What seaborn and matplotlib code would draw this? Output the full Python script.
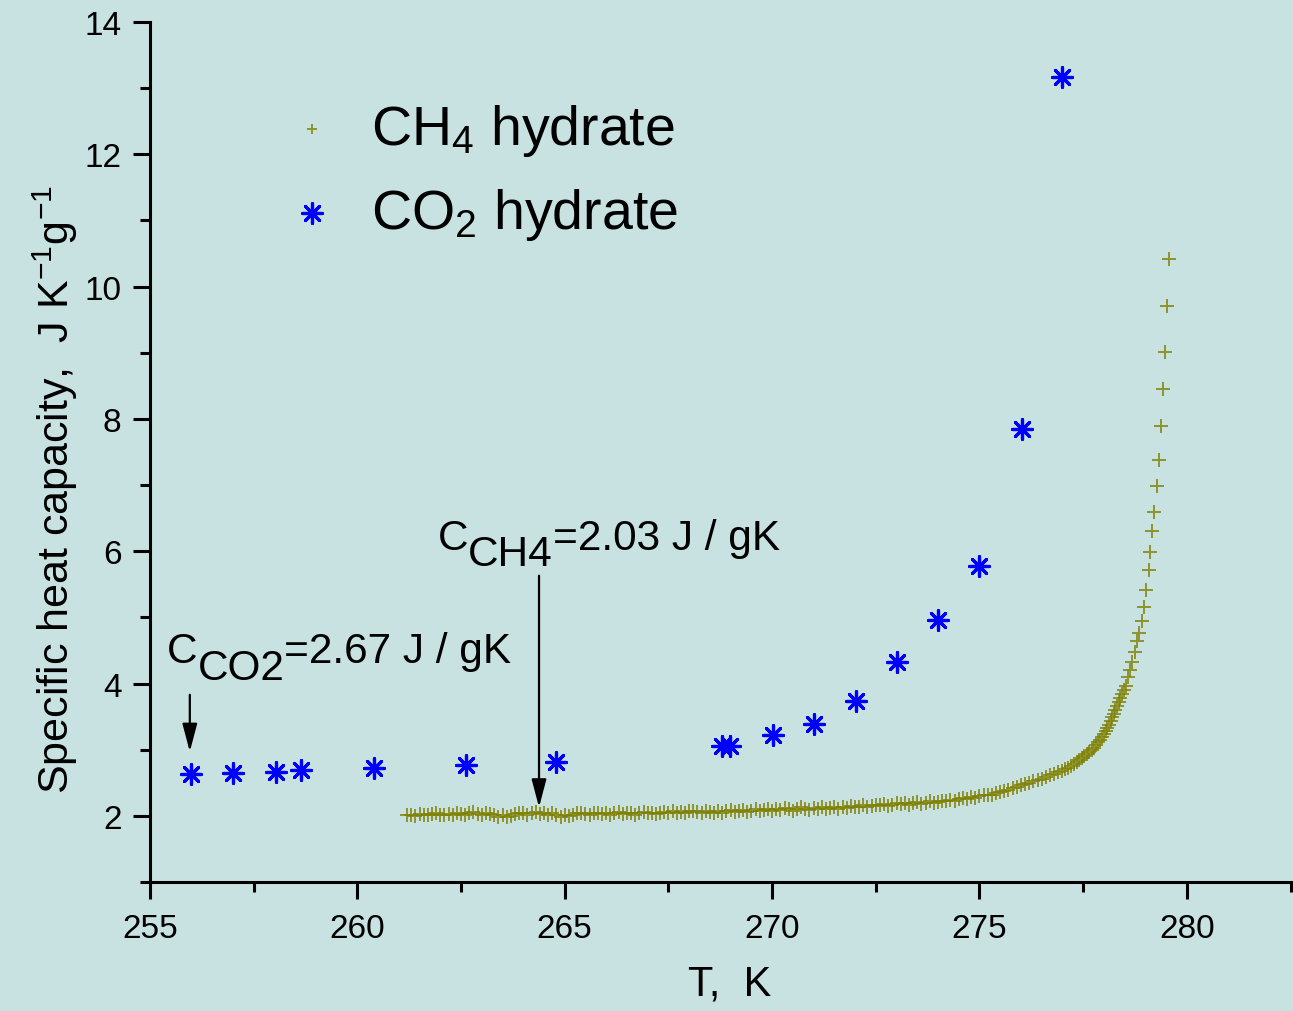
import numpy as np
import pandas as pd
import matplotlib
matplotlib.use("Agg")
import matplotlib.pyplot as plt
from matplotlib.ticker import MultipleLocator
import seaborn as sns

# ---------------- data ----------------
co2_T = [256.0, 257.0, 258.05, 258.65, 260.4, 262.62, 264.8, 268.8, 268.98,
         270.02, 271.0, 272.02, 273.0, 274.0, 275.0, 276.02, 277.0]
co2_C = [2.64, 2.65, 2.66, 2.69, 2.73, 2.77, 2.82, 3.05, 3.05,
         3.22, 3.39, 3.73, 4.32, 4.96, 5.78, 7.85, 13.17]

ch4_T = [
    261.2, 261.3, 261.4, 261.5, 261.6, 261.7, 261.8, 261.9, 262.0, 262.1,
    262.2, 262.3, 262.4, 262.5, 262.6, 262.7, 262.8, 262.9, 263.0, 263.1,
    263.2, 263.3, 263.4, 263.5, 263.6, 263.7, 263.8, 263.9, 264.0, 264.1,
    264.2, 264.3, 264.4, 264.5, 264.6, 264.7, 264.8, 264.9, 265.0, 265.1,
    265.2, 265.3, 265.4, 265.5, 265.6, 265.7, 265.8, 265.9, 266.0, 266.1,
    266.2, 266.3, 266.4, 266.5, 266.6, 266.7, 266.8, 266.9, 267.0, 267.1,
    267.2, 267.3, 267.4, 267.5, 267.6, 267.7, 267.8, 267.9, 268.0, 268.1,
    268.2, 268.3, 268.4, 268.5, 268.6, 268.7, 268.8, 268.9, 269.0, 269.1,
    269.2, 269.3, 269.4, 269.5, 269.6, 269.7, 269.8, 269.9, 270.0, 270.1,
    270.2, 270.3, 270.4, 270.5, 270.6, 270.7, 270.8, 270.9, 271.0, 271.1,
    271.2, 271.3, 271.4, 271.5, 271.6, 271.7, 271.8, 271.9, 272.0, 272.1,
    272.2, 272.3, 272.4, 272.5, 272.6, 272.7, 272.8, 272.9, 273.0, 273.1,
    273.2, 273.3, 273.4, 273.5, 273.6, 273.7, 273.8, 273.9, 274.0, 274.1,
    274.2, 274.3, 274.4, 274.5, 274.6, 274.7, 274.8, 274.9, 275.0, 275.1,
    275.2, 275.3, 275.4, 275.5, 275.6, 275.7, 275.8,
    275.9, 276.0, 276.1, 276.2, 276.3, 276.4, 276.5, 276.6, 276.7, 276.8,
    276.89, 276.98, 277.06, 277.13, 277.2, 277.28, 277.35, 277.41, 277.47, 277.53,
    277.59, 277.65, 277.71, 277.76, 277.81, 277.86, 277.9, 277.95,
    278.0, 278.04, 278.08, 278.12, 278.16, 278.2, 278.24, 278.28, 278.32, 278.36,
    278.4, 278.44, 278.48,
    278.54, 278.59, 278.64, 278.69, 278.74, 278.8, 278.85, 278.92, 278.97, 279.01,
    279.08, 279.12, 279.17, 279.22, 279.27, 279.33, 279.38, 279.43, 279.47, 279.52,
    279.57,
]
ch4_C = [
    2.01, 2.02, 2.00, 2.03, 2.02, 2.01, 2.03, 2.04, 2.02, 2.01,
    2.03, 2.02, 2.05, 2.03, 2.02, 2.04, 2.06, 2.03, 2.02, 2.04,
    2.03, 2.01, 1.99, 2.02, 1.98, 2.00, 2.03, 2.05, 2.04, 2.02,
    2.04, 2.06, 2.03, 2.05, 2.02, 2.04, 2.01, 1.99, 2.02, 2.00,
    2.02, 2.05, 2.04, 2.03, 2.01, 2.04, 2.05, 2.03, 2.04, 2.02,
    2.04, 2.06, 2.03, 2.05, 2.04, 2.02, 2.05, 2.06, 2.04, 2.05,
    2.03, 2.05, 2.06, 2.04, 2.07, 2.05, 2.06, 2.04, 2.07, 2.08,
    2.06, 2.05, 2.08, 2.06, 2.04, 2.07, 2.05, 2.08, 2.09, 2.06,
    2.07, 2.09, 2.06, 2.08, 2.10, 2.07, 2.09, 2.11, 2.08, 2.10,
    2.09, 2.12, 2.10, 2.08, 2.11, 2.13, 2.10, 2.09, 2.12, 2.11,
    2.13, 2.10, 2.12, 2.14, 2.11, 2.13, 2.12, 2.15, 2.13, 2.14,
    2.16, 2.13, 2.15, 2.17, 2.16, 2.18, 2.15, 2.17, 2.19, 2.18,
    2.20, 2.17, 2.19, 2.21, 2.18, 2.20, 2.22, 2.19, 2.21, 2.23,
    2.22, 2.24, 2.23, 2.25, 2.27, 2.26, 2.28, 2.27, 2.30, 2.31,
    2.32, 2.31, 2.34, 2.36, 2.37, 2.39, 2.42,
    2.44, 2.46, 2.48, 2.50, 2.52, 2.54, 2.56, 2.58, 2.61, 2.63,
    2.66, 2.68, 2.71, 2.73, 2.76, 2.79, 2.82, 2.85, 2.87, 2.90,
    2.93, 2.96, 3.00, 3.03, 3.07, 3.11, 3.15, 3.19,
    3.24, 3.28, 3.33, 3.38, 3.43, 3.49, 3.54, 3.60, 3.66, 3.72,
    3.78, 3.84, 3.90,
    3.96, 4.10, 4.21, 4.33, 4.47, 4.64, 4.77, 4.95, 5.15, 5.42,
    5.71, 5.99, 6.30, 6.60, 6.99, 7.38, 7.89, 8.45, 9.01, 9.70,
    10.42,
]

cp_co2 = "2.67"
cp_ch4 = "2.03"
x_ticks = [255, 260, 265, 270, 275, 280]
y_ticks = [2, 4, 6, 8, 10, 12, 14]

# ---------------- style ----------------
sns.set_style("ticks")
plt.rcParams["font.family"] = ["Liberation Sans", "DejaVu Sans"]
plt.rcParams["mathtext.fontset"] = "custom"
plt.rcParams["mathtext.rm"] = "Liberation Sans"
plt.rcParams["mathtext.it"] = "Liberation Sans:italic"
plt.rcParams["mathtext.bf"] = "Liberation Sans:bold"
plt.rcParams["axes.unicode_minus"] = False
plt.rcParams["text.color"] = "black"
plt.rcParams["axes.labelcolor"] = "black"
plt.rcParams["xtick.color"] = "black"
plt.rcParams["ytick.color"] = "black"

BG = "#C8E2E2"
OLIVE = "#808000"
BLUE = "#0000FF"

fig = plt.figure(figsize=(12.93, 10.12), dpi=100, facecolor=BG)
W, H = 1293, 1012
ax = fig.add_axes([150 / W, 1 - 883 / H, 1 - 150 / W, (883 - 23) / H])
ax.set_facecolor(BG)

df_ch4 = pd.DataFrame({"T": ch4_T, "C": ch4_C})
df_co2 = pd.DataFrame({"T": co2_T, "C": co2_C})

sns.scatterplot(data=df_ch4, x="T", y="C", marker="+", color=OLIVE, s=100,
                linewidth=1.4, alpha=0.8, edgecolor=None, ax=ax,
                label=r"CH$_\mathregular{4}$ hydrate", zorder=3)
sns.scatterplot(data=df_co2, x="T", y="C", marker=(8, 2, 0), color=BLUE, s=200,
                linewidth=2.3, edgecolor=None, ax=ax,
                label=r"CO$_\mathregular{2}$ hydrate", zorder=4)

ax.set_xlim(255, 282.56)
ax.set_ylim(1, 14)
ax.set_xticks(x_ticks)
ax.set_yticks(y_ticks)
ax.xaxis.set_minor_locator(MultipleLocator(2.5))
ax.yaxis.set_minor_locator(MultipleLocator(1))

for side in ["top", "right"]:
    ax.spines[side].set_visible(False)
for side in ["left", "bottom"]:
    ax.spines[side].set_linewidth(2.2)
    ax.spines[side].set_color("black")

ax.tick_params(axis="both", which="major", direction="out", length=12.5,
               width=2.2, color="black", labelsize=24, labelcolor="black")
ax.tick_params(axis="both", which="minor", direction="out", length=7,
               width=2.2, color="black")
ax.tick_params(axis="y", which="major", pad=8)
ax.tick_params(axis="x", which="major", pad=10)

ax.set_xlabel("T,  K", fontsize=30, color="black")
ax.set_ylabel(r"Specific heat capacity,  J K$^\mathregular{-1}$g$^\mathregular{-1}$",
              fontsize=31, color="black")
ax.xaxis.set_label_coords((730 - 150) / 1143, -0.095)
ax.yaxis.set_label_coords((80 - 150) / 1143, 0.458)

leg = ax.legend(loc="upper left", bbox_to_anchor=(0.117, 0.907), frameon=False,
                fontsize=40, handlelength=1.0, handletextpad=0.57,
                borderpad=0, borderaxespad=0, labelspacing=0.5,
                markerscale=1.0)
for txt in leg.get_texts():
    txt.set_color("black")
leg.legend_handles[0].set_sizes([60])

# ---------------- annotations ----------------
fig.canvas.draw()
renderer = fig.canvas.get_renderer()


def seg_text(x, y, parts, fs):
    dx = 0.0
    for s, dy in parts:
        t = ax.annotate(s, xy=(x, y), xycoords="data", xytext=(dx, dy),
                        textcoords="offset pixels", ha="left", va="baseline",
                        fontsize=fs, color="black")
        dx += t.get_window_extent(renderer=renderer).width


seg_text(255.41, 4.33, [("C", 0), ("CO2", -17), ("=" + cp_co2 + " J / gK", 0)], 30.5)
seg_text(261.94, 6.035, [("C", 0), ("CH4", -16), ("=" + cp_ch4 + " J / gK", 0)], 30.5)

arrow_kw = dict(arrowstyle="-|>,head_length=1.7,head_width=0.45", color="black",
                lw=1.6, mutation_scale=10, shrinkA=0, shrinkB=0)
ax.annotate("", xy=(255.96, 2.97), xytext=(255.96, 3.83), arrowprops=arrow_kw)
ax.annotate("", xy=(264.38, 2.13), xytext=(264.38, 5.63), arrowprops=arrow_kw)

fig.savefig("out.png", dpi=100, facecolor=BG)
